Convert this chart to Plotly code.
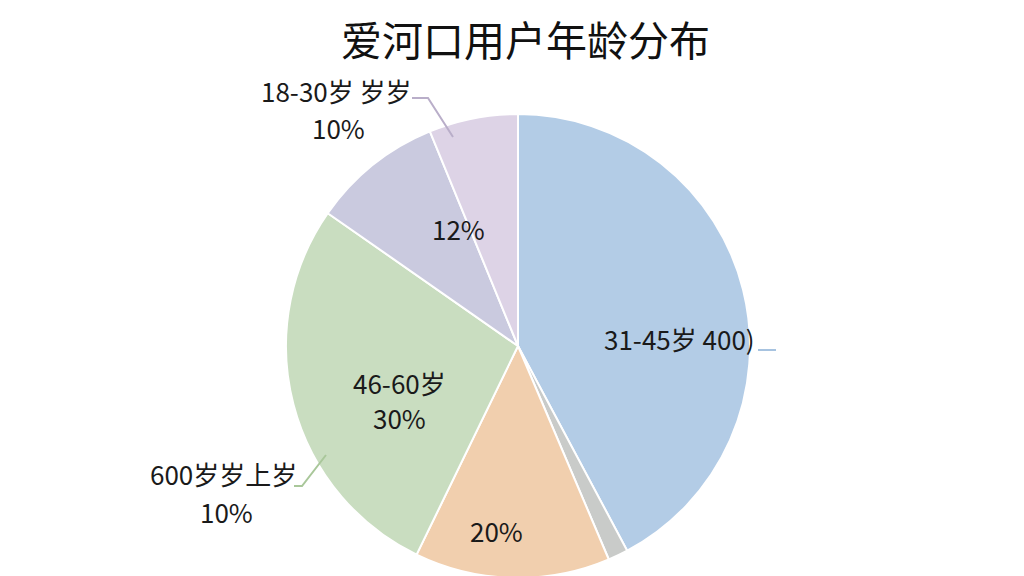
import plotly.graph_objects as go

# Data (slice sizes estimated from angles)
categories = ["31-45岁", "其他", "20%组", "46-60岁", "12%组", "18-30岁"]
values = [42.2, 1.4, 13.6, 27.5, 9.1, 6.2]
colors = ["#b3cce6", "#c9cbc9", "#f1cfae", "#c9ddc0", "#cacadf", "#ddd3e6"]
title_text = "爱河口用户年龄分布"

label_lines = [
    ("31-45岁 400)", 671, 338),
    ("46-60岁", 391, 382),
    ("30%", 391, 417),
    ("20%", 488, 530),
    ("12%", 450, 228),
    ("18-30岁 岁岁", 328, 90),
    ("10%", 330, 127),
    ("600岁岁上岁", 215, 473),
    ("10%", 218, 511),
]

W, H = 1024, 576
cx, cy, r = 510, 338, 232  # offset-corrected to land at (518, 345)
TEXT_DY = -8  # vertical correction for CJK font baseline

fig = go.Figure(go.Pie(
    labels=categories,
    values=values,
    sort=False,
    direction="clockwise",
    rotation=0,
    marker=dict(colors=colors, line=dict(color="white", width=2)),
    textinfo="none",
    hoverinfo="label+percent",
    showlegend=False,
    domain=dict(x=[(cx - r) / W, (cx + r) / W], y=[1 - (cy + r) / H, 1 - (cy - r) / H]),
))

font = "Noto Sans CJK SC, Noto Sans, sans-serif"
for txt, x, y in label_lines:
    fig.add_annotation(
        x=x / W, y=1 - (y + TEXT_DY) / H, xref="paper", yref="paper",
        text=txt, showarrow=False, align="center",
        font=dict(family=font, size=26, color="#1a1a1a"),
        xanchor="center", yanchor="middle",
    )

# title as annotation
fig.add_annotation(
    x=517 / W, y=1 - 30 / H, xref="paper", yref="paper",
    text=title_text, showarrow=False, borderpad=0,
    font=dict(family=font, size=41, color="#111111"),
    xanchor="center", yanchor="middle",
)

# leader lines
def line(pts, color):
    path = "M " + " L ".join(f"{x / W},{1 - y / H}" for x, y in pts)
    fig.add_shape(type="path", path=path, xref="paper", yref="paper",
                  line=dict(color=color, width=2))

line([(404, 90), (420, 90), (445, 129)], "#b9aec9")
line([(750, 342), (768, 342)], "#a7c3e0")
line([(286, 478), (294, 478), (318, 447)], "#a9c79a")

fig.update_layout(
    width=W, height=H,
    margin=dict(l=0, r=0, t=0, b=0),
    paper_bgcolor="white",
    plot_bgcolor="white",
)

fig.write_html("out.html")
